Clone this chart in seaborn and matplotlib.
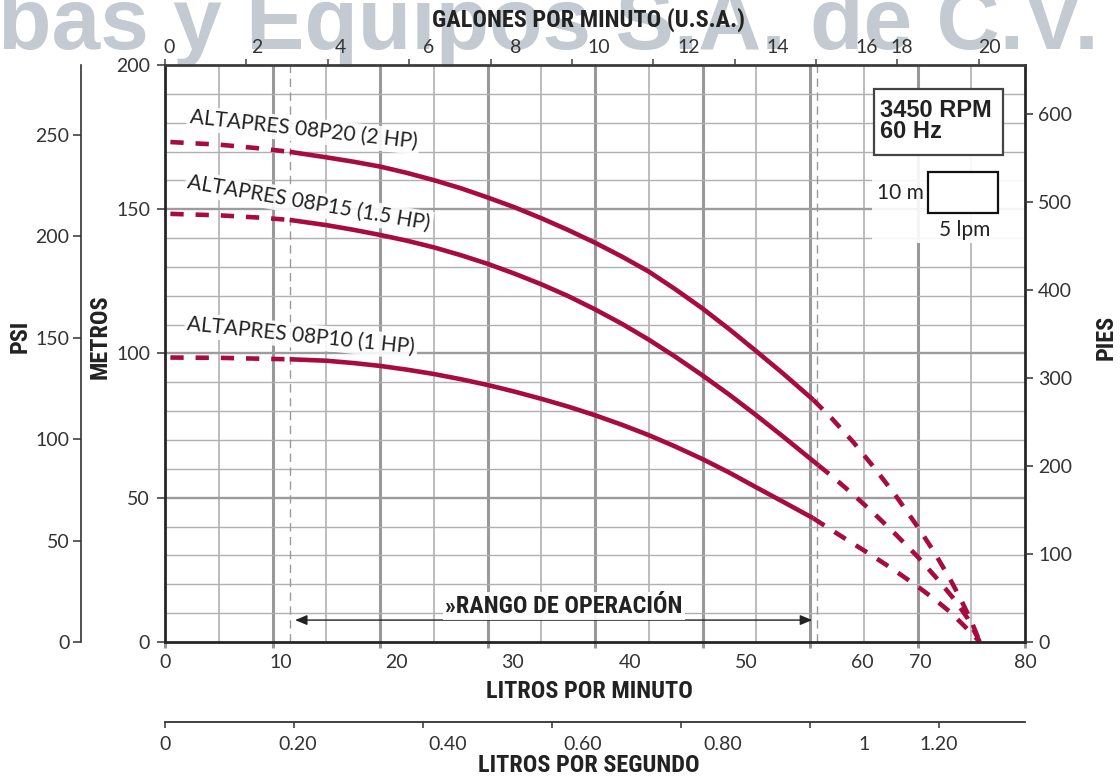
import numpy as np
import pandas as pd
import matplotlib
matplotlib.use("Agg")
import matplotlib.pyplot as plt
import seaborn as sns
from matplotlib.patches import Rectangle
from matplotlib import font_manager as fm

# ----------------- data -----------------
models = ["ALTAPRES 08P20 (2 HP)", "ALTAPRES 08P15 (1.5 HP)", "ALTAPRES 08P10 (1 HP)"]

lpm_08p20 = [0.5, 5, 8.8, 11.6, 15, 17.5, 20, 22.5, 25, 27.5, 30, 32.5, 35, 37.5, 40, 42.5, 45,
             47.5, 50, 52.5, 55, 57.5, 60.3, 62, 64, 66, 68, 70, 71.5, 73, 74, 75, 75.8]
m_08p20 = [173.3, 172.4, 171.1, 169.9, 168.0, 166.5, 164.8, 162.6, 160.1, 157.3, 154.1, 150.7, 146.9,
           142.8, 138.4, 133.6, 128.4, 122.2, 115.6, 108.4, 100.8, 93.05, 83.95,
           77.6, 69.4, 60.3, 50.6, 40.0, 31.5, 22.0, 15.0, 7.3, 0.0]

lpm_08p15 = [0.5, 5, 8.8, 11.6, 15, 17.5, 20, 22.5, 25, 27.5, 30, 32.5, 35, 37.5, 40, 42.5, 45,
             47.5, 50, 52.5, 55, 57.5, 60.8, 62, 64, 66, 68, 70, 72, 73.5, 74.7, 75.8]
m_08p15 = [148.4, 147.9, 147.1, 146.3, 144.5, 142.9, 141.1, 139.1, 136.8, 134.1, 131.1, 127.7, 124.0,
           119.9, 115.3, 110.3, 104.8, 98.8, 92.4, 85.7, 78.6, 71.2, 61.2,
           57.6, 51.2, 44.4, 37.2, 29.6, 21.2, 14.4, 8.0, 0.0]

lpm_08p10 = [0.5, 5, 8.8, 11.6, 15, 17.5, 20, 22.5, 25, 27.5, 30, 32.5, 35, 37.5, 40, 42.5, 45,
             47.5, 50, 52.5, 55, 57.5, 60.3, 61.5, 63.7, 65.6, 67.8, 69.8, 71.5, 73.0, 74.1, 75.2, 75.8]
m_08p10 = [98.6, 98.5, 98.2, 98.0, 97.5, 96.7, 95.7, 94.4, 92.9, 91.1, 89.1, 86.8, 84.3,
           81.6, 78.6, 75.3, 71.7, 67.7, 63.4, 58.7, 53.6, 48.6, 42.9,
           40.0, 34.8, 30.4, 25.0, 19.8, 15.1, 10.5, 6.5, 2.4, 0.0]

op_start = 11.6
op_end = [60.3, 60.8, 60.3]
range_lines = [11.63, 60.65]

lpm_ticks = [0, 10, 20, 30, 40, 50, 60, 70, 80]
lpm_labels = ["0", "10", "20", "30", "40", "50", "60", "70", "80"]
gpm_ticks = [0, 2, 4, 6, 8, 10, 12, 14, 16, 18, 20]
gpm_labels = ["0", "2", "4", "6", "8", "10", "12", "14", "16", "18", "20"]
lps_ticks = [0, 0.2, 0.4, 0.6, 0.8, 1.0, 1.2]
lps_labels = ["0", "0.20", "0.40", "0.60", "0.80", "1", "1.20"]
metros_ticks = [0, 50, 100, 150, 200]
psi_ticks = [0, 50, 100, 150, 200, 250]
pies_ticks = [0, 100, 200, 300, 400, 500, 600]

M_PER_PSI = 0.70307
FT_PER_M = 3.28084
LPM_PER_GPM = 3.78541
LPM_PER_LPS = 60.0

# where the reference prints its tick labels (layout, axis units)
lpm_label_pos = [0, 10.79, 21.55, 32.37, 43.26, 54.05, 64.84, 70.23, 80.0]
gpm_label_pos = [0.106, 2.254, 4.30, 6.47, 8.61, 10.66, 12.88, 15.06, 17.25, 18.10, 20.27]
lps_label_pos = [0, 0.2057, 0.4383, 0.648, 0.865, 1.0837, 1.2]

# ----------------- style -----------------
sns.set_theme(style="white")
plt.rcParams["font.family"] = ["Lato", "DejaVu Sans"]

# pick a condensed bold face for the headings
_names = {f.name for f in fm.fontManager.ttflist}
_narrow_scale = 1.0
if "Liberation Sans Narrow" in _names:
    NARROW_FP = fm.FontProperties(family="Liberation Sans Narrow", weight="bold")
elif "Roboto Condensed" in _names:
    NARROW_FP = fm.FontProperties(family="Roboto Condensed", weight="bold")
    _narrow_scale = 1.0
else:
    _cond = [f.fname for f in fm.fontManager.ttflist
             if "DejaVuSansCondensed-Bold.ttf" in f.fname]
    if _cond:
        NARROW_FP = fm.FontProperties(fname=_cond[0])
        _narrow_scale = 0.89
    else:
        NARROW_FP = fm.FontProperties(family="Liberation Sans", weight="bold")
        _narrow_scale = 0.86

RED = "#a80b40"
TXT = "#333333"
DARK = "#262626"

W, H = 1120, 780
fig = plt.figure(figsize=(W / 100, H / 100), dpi=100)
fig.patch.set_facecolor("white")


def P(x, y):
    return x / W, 1 - y / H


L, R, T, B = 165, 1025, 65, 642
ax = fig.add_axes([L / W, 1 - B / H, (R - L) / W, (B - T) / H])
ax.set_facecolor("none")

# watermark (behind everything)
fig.text(*P(-2, 49), "bas y Equipos S.A. de C.V.", family=["Liberation Sans", "DejaVu Sans"],
         fontweight="bold", fontsize=63, color="#c3cad1", va="baseline", ha="left", zorder=-5)

# grid
for v in np.arange(5, 80, 5):
    thick = v % 10 == 0
    ax.axvline(v, color="#999999" if thick else "#ababab", lw=2.2 if thick else 1.1, zorder=1)
for h in np.arange(10, 200, 10):
    thick = h % 50 == 0
    ax.axhline(h, color="#9c9c9c" if thick else "#b0b0b0", lw=1.7 if thick else 1.0, zorder=1)
for v in range_lines:
    ax.axvline(v, color="#9a9a9a", lw=1.0, ls=(0, (6, 4)), zorder=2)

# curves
dash = (0, (2.9, 2.6))
for (lpm, m), end in zip([(lpm_08p20, m_08p20), (lpm_08p15, m_08p15), (lpm_08p10, m_08p10)], op_end):
    df = pd.DataFrame({"lpm": lpm, "m": m})
    left = df[df.lpm <= op_start]
    mid = df[(df.lpm >= op_start) & (df.lpm <= end)]
    right = df[df.lpm >= end]
    sns.lineplot(data=left, x="lpm", y="m", ax=ax, color=RED, lw=3.3, linestyle=dash,
                 dash_capstyle="butt", zorder=5)
    sns.lineplot(data=mid, x="lpm", y="m", ax=ax, color=RED, lw=3.3, solid_capstyle="butt",
                 solid_joinstyle="round", zorder=5)
    sns.lineplot(data=right, x="lpm", y="m", ax=ax, color=RED, lw=3.3, linestyle=dash,
                 dash_capstyle="butt", zorder=5)

ax.set_xlim(0, 80)
ax.set_ylim(0, 200)
ax.set_xlabel("")
ax.set_ylabel("")

# curve labels
lab_box = dict(boxstyle="square,pad=0.12", fc="white", ec="none", alpha=0.88)
label_pos = [(2.23, 179.8, -6.3), (2.02, 157.3, -9.8), (2.02, 108.1, -5.9)]
for name, (lx, ly, rot) in zip(models, label_pos):
    ax.text(lx, ly, name, fontsize=15, color="#222222", rotation=rot, rotation_mode="anchor",
            ha="left", va="baseline", bbox=lab_box, zorder=4)

# operating range arrow
ax.annotate("", xy=(12.1, 7.6), xytext=(60.2, 7.6),
            arrowprops=dict(arrowstyle="<|-|>,head_length=0.6,head_width=0.25", color="#222222",
                            lw=1.0, mutation_scale=12, shrinkA=0, shrinkB=0), zorder=6)
rango_fp = NARROW_FP.copy()
rango_fp.set_size(17.5 * _narrow_scale)
ax.text(37.1, 12.4, "»RANGO DE OPERACIÓN", fontproperties=rango_fp,
        color="#222222", ha="center", va="center",
        bbox=dict(boxstyle="square,pad=0.1", fc="white", ec="none", alpha=0.9), zorder=6)

# info box
ax.add_patch(Rectangle((0.8221, 0.6915), 0.1779, 0.1525, transform=ax.transAxes,
                       fc="white", ec="none", alpha=0.9, zorder=3))
ax.add_patch(Rectangle((0.8240, 0.8440), 0.1505, 0.1139, transform=ax.transAxes,
                       fc="white", ec="#444444", lw=1.6, zorder=7))
ax.text(0.8314, 0.9099, "3450 RPM", transform=ax.transAxes, family=["Liberation Sans", "DejaVu Sans"],
        fontweight="bold", fontsize=17, color="#222222", va="baseline", ha="left", zorder=8)
ax.text(0.8314, 0.8735, "60 Hz", transform=ax.transAxes, family=["Liberation Sans", "DejaVu Sans"],
        fontweight="bold", fontsize=17, color="#222222", va="baseline", ha="left", zorder=8)
ax.add_patch(Rectangle((0.8869, 0.7430), 0.0814, 0.0721, transform=ax.transAxes,
                       fc="white", ec="#111111", lw=1.6, zorder=7))
ax.text(0.8826, 0.778, "10 m", transform=ax.transAxes, fontsize=15, color="#222222",
        ha="right", va="center", zorder=8)
ax.text(0.9302, 0.714, "5 lpm", transform=ax.transAxes, fontsize=15, color="#222222",
        ha="center", va="center", zorder=8)

# main axes spines/ticks
for s in ax.spines.values():
    s.set_visible(True)
    s.set_color(DARK)
    s.set_linewidth(2.0)
    s.set_zorder(6)
ax.spines["top"].set_color("#3c3c3c")

ax.xaxis.remove_overlapping_locs = False
ax.set_xticks(lpm_ticks)
ax.set_xticklabels([""] * len(lpm_ticks))
ax.set_xticks(lpm_label_pos, minor=True)
ax.set_xticklabels(lpm_labels, minor=True)
ax.tick_params(axis="x", which="major", bottom=True, top=False, length=4.5, width=2.2,
               color="#9a9a9a", direction="out")
ax.tick_params(axis="x", which="minor", bottom=True, top=False, length=0, pad=9,
               labelsize=14, labelcolor=TXT)
ax.set_yticks(metros_ticks)
ax.tick_params(axis="y", which="major", left=True, right=False, length=5.8, width=1.1,
               color=TXT, direction="out", labelsize=14, labelcolor=TXT, pad=5)
ax.tick_params(axis="y", which="minor", left=False, right=False)

# top: gallons per minute
gal = ax.twiny()
for s in gal.spines.values():
    s.set_visible(False)
gal.xaxis.remove_overlapping_locs = False
gal.set_xlim(0, 80 / LPM_PER_GPM)
gal.set_xticks(gpm_ticks)
gal.set_xticklabels([""] * len(gpm_ticks))
gal.set_xticks(gpm_label_pos, minor=True)
gal.set_xticklabels(gpm_labels, minor=True)
gal.tick_params(axis="x", which="major", top=True, bottom=False, labeltop=True, labelbottom=False,
                length=4, width=1.1, color="#444444", direction="out")
gal.tick_params(axis="x", which="minor", top=True, bottom=False, labeltop=True, labelbottom=False,
                length=0, pad=6.5, labelsize=14, labelcolor=TXT)
gal.grid(False)

# bottom: litres per second
lps = ax.twiny()
for s in lps.spines.values():
    s.set_visible(False)
lps.xaxis.remove_overlapping_locs = False
lps.xaxis.set_ticks_position("bottom")
lps.spines["bottom"].set_visible(True)
lps.spines["bottom"].set_position(("axes", -(722 - B) / (B - T)))
lps.spines["bottom"].set_color("#333333")
lps.spines["bottom"].set_linewidth(1.3)
lps.set_xlim(0, 80 / LPM_PER_LPS)
lps.set_xticks(lps_ticks)
lps.set_xticklabels([""] * len(lps_ticks))
lps.set_xticks(lps_label_pos, minor=True)
lps.set_xticklabels(lps_labels, minor=True)
lps.tick_params(axis="x", which="major", bottom=True, top=False, labelbottom=True, labeltop=False,
                length=4, width=1.1, color="#333333", direction="out")
lps.tick_params(axis="x", which="minor", bottom=True, top=False, labelbottom=True, labeltop=False,
                length=0, pad=10, labelsize=14, labelcolor=TXT)
lps.grid(False)

# far left: psi
psi = ax.twinx()
for s in psi.spines.values():
    s.set_visible(False)
psi.yaxis.set_ticks_position("left")
psi.spines["left"].set_visible(True)
psi.spines["left"].set_position(("axes", -(L - 81) / (R - L)))
psi.spines["left"].set_color("#333333")
psi.spines["left"].set_linewidth(1.2)
psi.set_ylim(0, 200 / M_PER_PSI)
psi.set_yticks(psi_ticks)
psi.tick_params(axis="y", which="major", left=True, right=False, labelleft=True, labelright=False,
                length=5.8, width=1.1, color=TXT, direction="out", labelsize=14, labelcolor=TXT, pad=2.5)
psi.grid(False)

# right: feet
pies = ax.twinx()
for s in pies.spines.values():
    s.set_visible(False)
pies.set_ylim(0, 200 * FT_PER_M)
pies.set_yticks(pies_ticks)
pies.tick_params(axis="y", which="major", right=True, left=False, labelright=True, labelleft=False,
                 length=5.8, width=1.1, color=TXT, direction="out", labelsize=14, labelcolor=TXT, pad=3.6)
pies.grid(False)

# axis titles
title_fp = NARROW_FP.copy()
title_fp.set_size(17.5 * _narrow_scale)
title_kw = dict(fontproperties=title_fp, color="#222222", ha="center", va="center")
fig.text(*P(589, 20), "GALONES POR MINUTO (U.S.A.)", **title_kw)
fig.text(*P(589, 692), "LITROS POR MINUTO", **title_kw)
fig.text(*P(589, 766), "LITROS POR SEGUNDO", **title_kw)
fig.text(*P(100, 337), "METROS", rotation=90, **title_kw)
fig.text(*P(20, 336), "PSI", rotation=90, **title_kw)
fig.text(*P(1106, 337), "PIES", rotation=90, **title_kw)

fig.savefig("out.png", dpi=100, facecolor="white")
